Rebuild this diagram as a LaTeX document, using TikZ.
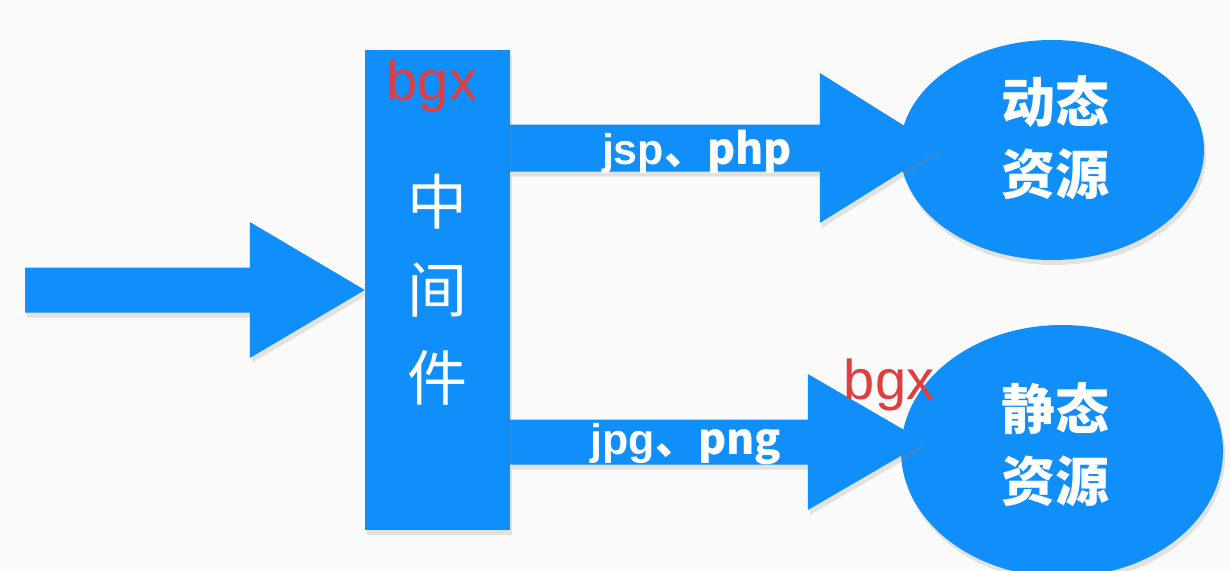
\documentclass[tikz,border=0pt]{standalone}
\usepackage{fontspec}
\setmainfont{Liberation Sans}
\newfontfamily\cjk{Noto Sans CJK SC}
\usetikzlibrary{calc,shadows,shapes.geometric}

\definecolor{bblue}{RGB}{16,142,250}
\definecolor{mred}{RGB}{222,62,64}

\tikzset{
  softshadow/.style={drop shadow={opacity=0.2, shadow xshift=2pt, shadow yshift=-5pt}},
  mbox/.style={fill=bblue, softshadow, minimum width=145pt, minimum height=480pt, inner sep=0pt,
    text=white, align=center, font=\cjk\fontsize{60}{88}\selectfont},
  res/.style={ellipse, fill=bblue, softshadow, inner sep=0pt},
  restext/.style={text=white, align=center, font=\cjk\bfseries\fontsize{54}{72}\selectfont},
  lab/.style={text=white, font=\bfseries\fontsize{43}{48}\selectfont},
  redmark/.style={text=mred, font=\fontsize{56}{60}\selectfont},
}

% fat arrow: from, to, shaft half, head half, head length
\newcommand{\fatarrow}[5]{%
  \fill[bblue, softshadow] let \p1=(#1), \p2=(#2) in
    (\x1,\y1-#3) -- (\x2-#5,\y1-#3) -- (\x2-#5,\y1-#4) -- (\x2,\y2)
    -- (\x2-#5,\y1+#4) -- (\x2-#5,\y1+#3) -- (\x1,\y1+#3) -- cycle;}

\begin{document}
\begin{tikzpicture}[x=1pt, y=-1pt]

\fill[white!98!black] (0,0) rectangle (1230,570);
\useasboundingbox (0,0) rectangle (1230,570);
\clip (0,0) rectangle (1230,570);

% Nodos
\node[res, minimum width=304pt, minimum height=220pt] (dyn) at (1052,150) {};
\node[res, minimum width=322pt, minimum height=252pt] (sta) at (1062,451) {};

\coordinate (in) at (25,290);
\coordinate (s1) at (510,148);
\coordinate (s2) at (510,442);
\coordinate (t1) at ($(dyn.west)+(40,-2)$);
\coordinate (t2) at ($(sta.west)+(24,-9)$);

% Flechas
\fatarrow{s1}{t1}{23.5pt}{75pt}{120pt}
\fatarrow{s2}{t2}{22.5pt}{68pt}{117pt}

\node[restext] (dt) at ($(dyn)+(3,-12)$) {动态\\资源};
\node[restext] (st) at ($(sta)+(-7,-6)$) {静态\\资源};

\node[mbox] (mw) at (437.5,290) {中\\间\\件};
\coordinate (mwin) at (mw.west);
\fatarrow{in}{mwin}{22.5pt}{68pt}{115pt}

% Etiquetas
\node[lab] (l1) at (697,152) {jsp\cjk{、}php};
\node[lab] (l2) at (686,444) {jpg\cjk{、}png};
\node[redmark] (m1) at (432,86) {bgx};
\node[redmark] (m2) at (889,385) {bgx};

\end{tikzpicture}
\end{document}
